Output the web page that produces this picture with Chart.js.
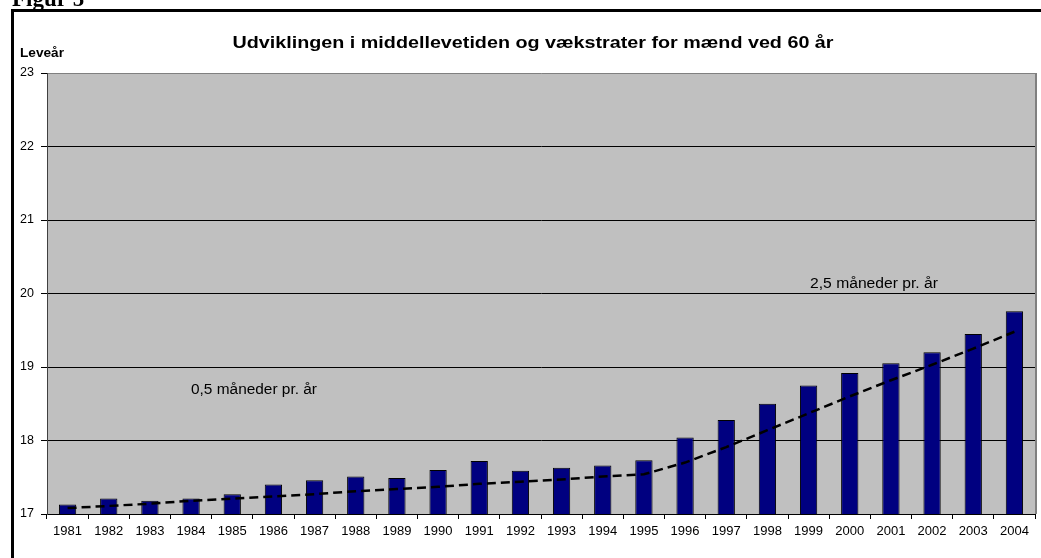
<!DOCTYPE html>
<html>
<head>
<meta charset="utf-8">
<script src="https://cdn.jsdelivr.net/npm/chart.js@4.4.1/dist/chart.umd.min.js"></script>
<style>
  html, body { margin: 0; padding: 0; background: #ffffff; overflow: hidden; }
  #wrap { position: relative; width: 1041px; height: 558px; }
  canvas { display: block; }
</style>
</head>
<body>
<div id="wrap"><canvas id="c" width="1041" height="558"></canvas></div>
<script>
// ---- Data ----
const years = ['1981','1982','1983','1984','1985','1986','1987','1988','1989','1990','1991','1992',
               '1993','1994','1995','1996','1997','1998','1999','2000','2001','2002','2003','2004'];
const lifeExpectancy = [17.13,17.21,17.18,17.21,17.27,17.40,17.46,17.51,17.49,17.60,17.72,17.59,
                        17.63,17.66,17.73,18.04,18.28,18.50,18.75,18.92,19.05,19.20,19.45,19.76];
const trendLine = [17.08,17.11,17.14,17.18,17.21,17.24,17.27,17.31,17.34,17.37,17.41,17.44,
                   17.47,17.51,17.54,17.70,17.91,18.14,18.37,18.60,18.82,19.03,19.25,19.48];
const yTickValues = [17,18,19,20,21,22,23];
const figureLabel = 'Figur 5';
const chartTitle = 'Udviklingen i middellevetiden og vækstrater for mænd ved 60 år';
const yAxisLabel = 'Leveår';
const noteEarly = '0,5 måneder pr. år';
const noteLate = '2,5 måneder pr. år';

const FONT = "'Liberation Sans', Arial, sans-serif";

// draw text horizontally stretched to a target width (reference text is wide)
function wideText(ctx, text, x, y, font, targetWidth, align) {
  ctx.save();
  ctx.font = font;
  const w = ctx.measureText(text).width;
  const sx = targetWidth / w;
  let left = x;
  if (align === 'center') left = x - targetWidth / 2;
  ctx.translate(left, y);
  ctx.scale(sx, 1);
  ctx.textAlign = 'left';
  ctx.fillText(text, 0, 0);
  ctx.restore();
}

const decorPlugin = {
  id: 'decor',
  beforeDraw(chart) {
    const ctx = chart.ctx;
    const a = chart.chartArea;
    ctx.save();
    ctx.fillStyle = '#ffffff';
    ctx.fillRect(0, 0, chart.width, chart.height);
    // outer frame (top and left visible)
    ctx.fillStyle = '#000000';
    ctx.fillRect(11, 9, chart.width - 11, 3);
    ctx.fillRect(11, 9, 3, chart.height - 9);
    // figure label, cropped at the top
    ctx.font = "bold 23px 'Liberation Serif', 'Times New Roman', serif";
    ctx.textBaseline = 'alphabetic';
    ctx.textAlign = 'left';
    ctx.fillText(figureLabel, 12, 6);
    // plot area background
    ctx.fillStyle = '#C0C0C0';
    ctx.fillRect(a.left, a.top, a.right - a.left, a.bottom - a.top);
    // title
    ctx.fillStyle = '#000000';
    ctx.textBaseline = 'alphabetic';
    wideText(ctx, chartTitle, 533, 48, 'bold 16px ' + FONT, 601, 'center');
    // y-axis label
    wideText(ctx, yAxisLabel, 20, 57, 'bold 12px ' + FONT, 44, 'left');
    ctx.restore();
  },
  afterDraw(chart) {
    const ctx = chart.ctx;
    const a = chart.chartArea;
    ctx.save();
    ctx.strokeStyle = '#808080';
    ctx.lineWidth = 2;
    ctx.beginPath();
    ctx.moveTo(a.right + 1, a.top);
    ctx.lineTo(a.right + 1, a.bottom);
    ctx.stroke();
    // annotations
    ctx.fillStyle = '#000000';
    ctx.textBaseline = 'middle';
    wideText(ctx, noteEarly, 191, 390, '14px ' + FONT, 126, 'left');
    wideText(ctx, noteLate, 810, 284, '14px ' + FONT, 128, 'left');
    ctx.restore();
  }
};

new Chart(document.getElementById('c'), {
  data: {
    labels: years,
    datasets: [
      {
        type: 'line',
        data: trendLine,
        borderColor: '#000000',
        borderWidth: 2.5,
        borderDash: [9, 5],
        pointRadius: 0,
        tension: 0,
        fill: false,
        order: 0
      },
      {
        type: 'bar',
        data: lifeExpectancy,
        backgroundColor: '#000080',
        borderColor: '#000000',
        borderWidth: 1,
        borderSkipped: false,
        categoryPercentage: 1.0,
        barPercentage: 0.42,
        order: 1
      }
    ]
  },
  options: {
    responsive: false,
    animation: false,
    devicePixelRatio: 1,
    layout: { padding: { top: 73, right: 6, bottom: 0, left: 0 } },
    plugins: {
      legend: { display: false },
      title: { display: false },
      tooltip: { enabled: false }
    },
    scales: {
      x: {
        type: 'category',
        offset: true,
        grid: {
          offset: true,
          drawOnChartArea: false,
          drawTicks: true,
          tickLength: 5,
          tickColor: '#000000',
          tickWidth: 1
        },
        border: { color: '#000000', width: 1 },
        ticks: {
          color: '#000000',
          font: { family: FONT, size: 13 },
          padding: 5,
          maxRotation: 0,
          autoSkip: false
        },
        afterFit(scale) { scale.height = 44; }
      },
      y: {
        type: 'linear',
        min: 17,
        max: 23,
        afterBuildTicks(scale) { scale.ticks = yTickValues.map(v => ({ value: v })); },
        grid: {
          color: (c) => (c.tick && c.tick.value === 23) ? '#808080' : '#000000',
          lineWidth: 1,
          tickLength: 6,
          tickColor: '#000000',
          drawTicks: true
        },
        border: { color: '#404040', width: 1 },
        ticks: {
          color: '#000000',
          font: { family: FONT, size: 12.5 },
          padding: 7
        },
        afterFit(scale) { scale.width = 47; }
      }
    }
  },
  plugins: [decorPlugin]
});
</script>
</body>
</html>
